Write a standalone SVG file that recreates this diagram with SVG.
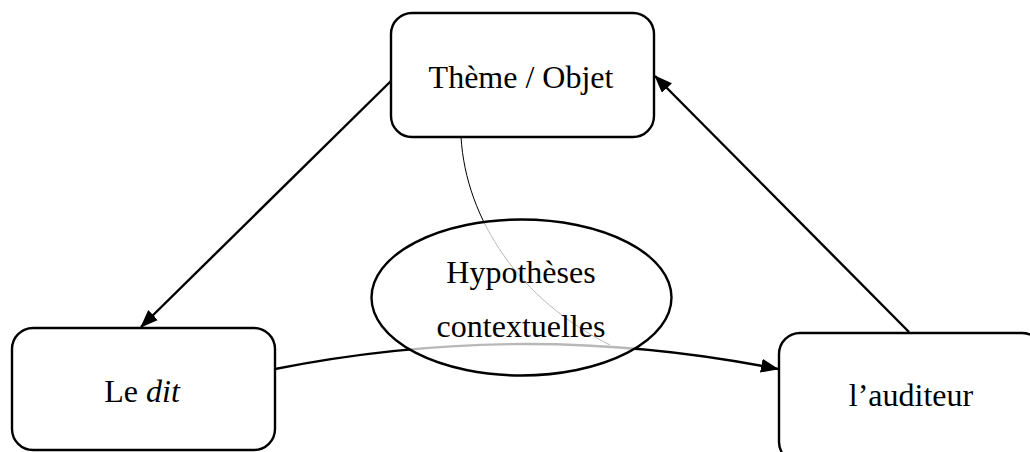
<svg xmlns="http://www.w3.org/2000/svg" width="1030" height="452" viewBox="0 0 1030 452">
<style>
.box{fill:#fff;stroke:#000;stroke-width:2.4}
.lbl{font-family:"Liberation Serif","Times New Roman",serif;font-size:32px;fill:#000;text-anchor:middle}
.conn{fill:none;stroke:#000;stroke-width:2.4}
.thin{fill:none;stroke:#000;stroke-width:1}
</style>
<defs>
<marker id="ah" markerWidth="18" markerHeight="14" refX="17" refY="7" orient="auto" markerUnits="userSpaceOnUse">
<path d="M0,0 L18,7 L0,14 Z" fill="#000"/>
</marker>
</defs>
<rect width="1030" height="452" fill="#fff"/>
<g id="connectors">
<line class="conn" x1="392" y1="80" x2="141" y2="327" marker-end="url(#ah)"/>
<line class="conn" x1="909" y1="332" x2="655" y2="76" marker-end="url(#ah)"/>
<path class="conn" d="M275,369 Q527,319 778,369" marker-end="url(#ah)"/>
<path class="thin" d="M461,137 C466,220 520,300 610,345"/>
</g>
<g id="node-hypotheses">
<ellipse cx="521.5" cy="297.5" rx="150" ry="78" fill="#fff" fill-opacity="0.72" stroke="#000" stroke-width="2.4"/>
<text class="lbl" x="521" y="283">Hypothèses</text>
<text class="lbl" x="521" y="337">contextuelles</text>
</g>
<g id="node-theme">
<rect class="box" x="391" y="13" width="263" height="124" rx="21"/>
<text class="lbl" x="521" y="88">Thème / Objet</text>
</g>
<g id="node-dit">
<rect class="box" x="12" y="328" width="263" height="122" rx="21"/>
<text class="lbl" x="142" y="402">Le <tspan font-style="italic">dit</tspan></text>
</g>
<g id="node-auditeur">
<rect class="box" x="779" y="333" width="264" height="130" rx="21"/>
<text class="lbl" x="911" y="406">l’auditeur</text>
</g>
</svg>
